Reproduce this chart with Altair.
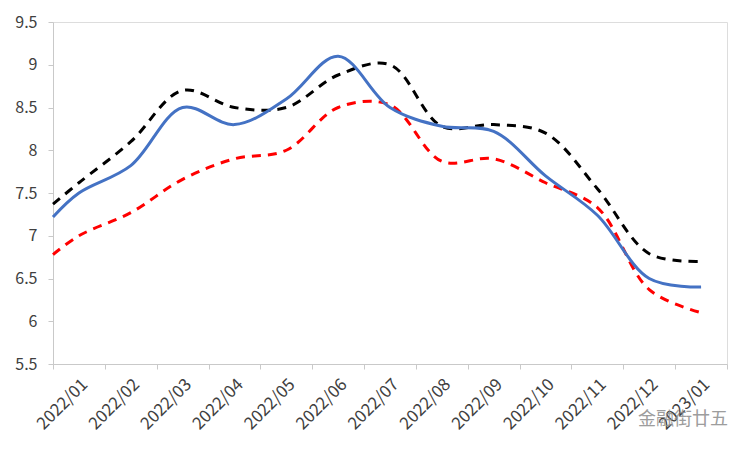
import json
import altair as alt
import pandas as pd

months = ["2022/01", "2022/02", "2022/03", "2022/04", "2022/05", "2022/06", "2022/07",
          "2022/08", "2022/09", "2022/10", "2022/11", "2022/12", "2023/01"]

# first value is where each line begins at the left edge of the plot,
# the following 13 are at the month centres
blue_vals = [7.22, 7.50, 7.82, 8.50, 8.30, 8.60, 9.10, 8.50, 8.28, 8.22, 7.70, 7.24, 6.50, 6.40]
black_vals = [7.37, 7.62, 8.10, 8.70, 8.50, 8.50, 8.88, 9.00, 8.28, 8.30, 8.20, 7.55, 6.79, 6.70]
red_vals = [6.78, 7.00, 7.27, 7.66, 7.90, 8.00, 8.50, 8.53, 7.87, 7.90, 7.62, 7.33, 6.37, 6.10]

watermark = "金融街廿五"

positions = [0.0] + [i + 0.5 for i in range(len(months))]

rows = []
for name, vals in [("black", black_vals), ("red", red_vals), ("blue", blue_vals)]:
    for p, v in zip(positions, vals):
        rows.append({"series": name, "pos": p, "value": v})
df = pd.DataFrame(rows)

FONT = "Noto Sans CJK SC"
AXIS_GRAY = "#c9c9c9"
LABEL_COLOR = "#404040"

x_scale = alt.Scale(domain=[0, len(months)], nice=False, zero=False)
y_scale = alt.Scale(domain=[5.5, 9.5], nice=False, zero=False)

y_axis = alt.Axis(values=[5.5, 6, 6.5, 7, 7.5, 8, 8.5, 9, 9.5], grid=False,
                  domainColor=AXIS_GRAY, tickColor=AXIS_GRAY, tickSize=5,
                  labelFont=FONT, labelFontSize=16, labelColor=LABEL_COLOR,
                  labelPadding=11, title=None,
                  labelExpr="datum.value == floor(datum.value) ? format(datum.value, 'd') : format(datum.value, '.1f')")

tick_axis = alt.Axis(values=list(range(len(months) + 1)), grid=False, labels=False,
                     domainColor=AXIS_GRAY, tickColor=AXIS_GRAY, tickSize=5,
                     title=None, orient="bottom")

label_expr = json.dumps(months) + "[floor(datum.value)]"
label_axis = alt.Axis(values=[i + 0.5 for i in range(len(months))], grid=False,
                      domain=False, ticks=False, labelAngle=-45, labelAlign="right",
                      labelBaseline="top", labelPadding=12, labelFont=FONT,
                      labelFontSize=17, labelColor=LABEL_COLOR, labelExpr=label_expr,
                      labelOverlap=False, labelBound=False, labelFlush=False,
                      title=None, orient="bottom")

base = alt.Chart(df)


def series_layer(name, color, dash, axis):
    kw = dict(color=color, strokeWidth=3, interpolate="catmull-rom")
    if dash:
        kw["strokeDash"] = dash
    return base.transform_filter(alt.datum.series == name).mark_line(**kw).encode(
        x=alt.X("pos:Q", scale=x_scale, axis=axis),
        y=alt.Y("value:Q", scale=y_scale, axis=y_axis),
        order="pos:Q",
    )


black_layer = series_layer("black", "#000000", [9, 7], tick_axis)
red_layer = series_layer("red", "#ff0000", [9, 7], label_axis)
blue_layer = series_layer("blue", "#4472c4", None, None)

wm = alt.Chart(pd.DataFrame({"t": [watermark]})).mark_text(
    font=FONT, fontSize=18, color="#8c8c8c", align="left", baseline="middle", opacity=0.85
).encode(x=alt.value(585), y=alt.value(398), text="t:N")

chart = alt.layer(black_layer, red_layer, blue_layer, wm).resolve_axis(x="independent").properties(
    width=674, height=342,
    autosize=alt.AutoSizeParams(type="none"),
    padding={"left": 45, "top": 14, "right": 15, "bottom": 77},
).configure_view(stroke=None).configure(background="white")

chart.save("out.html", embed_options={"renderer": "svg", "actions": False})
